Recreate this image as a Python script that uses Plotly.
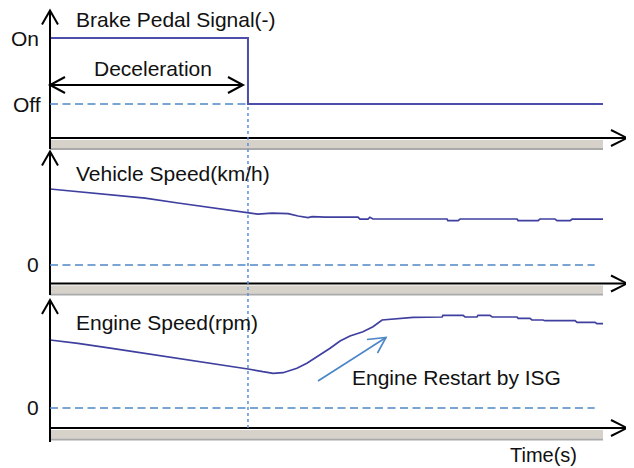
import plotly.graph_objects as go

# ---------------- data ----------------
brake_t = [0, 7.16, 20.0]
brake_state = [1, 0, 0]          # 1 = On, 0 = Off

speed_t = [0, 1.0, 2.24, 3.44, 4.63, 5.86, 7.05, 7.52, 8.03, 8.61, 8.97, 9.33, 9.48, 9.95,
           11.14, 11.21, 11.50, 11.57, 11.68, 14.36, 14.39, 14.76, 14.83, 16.89, 16.93,
           17.65, 17.72, 18.26, 18.34, 18.81, 18.88, 20.0]
speed_kmh = [38.0, 36.6, 35.0, 33.4, 31.0, 28.5, 26.2, 25.4, 25.9, 25.7, 24.5, 23.7, 24.2, 23.9,
             23.9, 22.9, 22.9, 23.9, 23.0, 23.0, 22.2, 22.2, 23.0, 23.0, 22.2,
             22.2, 23.0, 23.0, 22.2, 22.2, 22.9, 22.9]

rpm_t = [0, 1.01, 2.24, 3.44, 4.63, 5.86, 6.94, 7.16, 7.70, 8.07, 8.43, 8.93, 9.29, 9.66,
         10.13, 10.49, 10.85, 11.32, 11.68, 12.01, 12.55, 13.13, 14.18, 14.21, 14.94, 15.01,
         15.44, 15.48, 15.91, 15.99, 16.89, 16.93, 17.36, 17.43, 17.83, 17.90, 18.99, 19.06,
         19.71, 19.78, 20.0]
rpm = [1360, 1294, 1194, 1094, 994, 894, 806, 780, 726, 694, 706, 794, 894, 1026,
       1194, 1340, 1440, 1526, 1626, 1760, 1780, 1814, 1820, 1854, 1854, 1820,
       1820, 1854, 1854, 1820, 1820, 1794, 1794, 1760, 1760, 1746, 1746, 1714,
       1714, 1686, 1686]

release_t = 7.16
t_end = 20.0

# ---------------- geometry helpers ----------------
OFF = 8                      # page body margin offset
W, H = 634 - OFF, 468 - OFF
L = 50 - OFF
R = W - (628 - OFF)
PW = W - L - R


def px(x):
    return (x - OFF - L) / PW


def py(y):
    return 1 - (y - OFF) / H


FONT = "Liberation Sans, Arial, sans-serif"
LINE_C = "#3f3fa0"
DASH_C = "#4f86c6"

fig = go.Figure()
fig.add_trace(go.Scatter(x=brake_t, y=brake_state, mode="lines", line_shape="hv",
                         line=dict(color="#4d4daa", width=2), xaxis="x", yaxis="y",
                         hoverinfo="skip"))
fig.add_trace(go.Scatter(x=speed_t, y=speed_kmh, mode="lines",
                         line=dict(color=LINE_C, width=1.7), xaxis="x", yaxis="y2",
                         hoverinfo="skip"))
fig.add_trace(go.Scatter(x=rpm_t, y=rpm, mode="lines",
                         line=dict(color=LINE_C, width=1.7), xaxis="x", yaxis="y3",
                         hoverinfo="skip"))

shapes = []


def pline(x0, y0, x1, y1, color="black", width=2, dash=None):
    d = dict(type="line", xref="paper", yref="paper", x0=px(x0), y0=py(y0),
             x1=px(x1), y1=py(y1), line=dict(color=color, width=width))
    if dash:
        d["line"]["dash"] = dash
    shapes.append(d)


def chevron(pts, color="black", width=2):
    path = "M " + " L ".join(f"{px(a):.5f},{py(b):.5f}" for a, b in pts)
    shapes.append(dict(type="path", xref="paper", yref="paper", path=path,
                       line=dict(color=color, width=width)))


def prect(x0, y0, x1, y1, color):
    shapes.append(dict(type="rect", xref="paper", yref="paper", x0=px(x0), y0=py(y0),
                       x1=px(x1), y1=py(y1), fillcolor=color, line=dict(width=0),
                       layer="below"))


panels = [  # axis y, band top, band bottom, y-axis top, y-axis bottom
    (138, 140, 150, 10.5, 149),
    (283.5, 285.5, 295.5, 151.5, 295),
    (428, 430, 440.5, 300, 442),
]
for ay, bt, bb, yt, yb in panels:
    prect(50, bt, 603, bb - 2, "#d6d2ca")
    prect(50, bb - 2, 603, bb, "#a9a9a9")
    pline(50, ay, 627, ay)
    chevron([(611, ay - 8), (627, ay), (611, ay + 8)])
    pline(50, yt, 50, yb)
    chevron([(42, yt + 14), (50, yt), (58, yt + 14)])

# dashed reference lines (data coordinates)
dash = "8px,4.5px"
shapes.append(dict(type="line", xref="x", yref="y", x0=0, x1=release_t, y0=0, y1=0,
                   line=dict(color=DASH_C, width=1.5, dash=dash)))
shapes.append(dict(type="line", xref="x", yref="y2", x0=0, x1=19.7, y0=0, y1=0,
                   line=dict(color=DASH_C, width=1.5, dash=dash)))
shapes.append(dict(type="line", xref="x", yref="y3", x0=0, x1=19.7, y0=0, y1=0,
                   line=dict(color=DASH_C, width=1.5, dash=dash)))

# dotted vertical line at brake release
shapes.append(dict(type="line", xref="x", yref="paper", x0=release_t, x1=release_t,
                   y0=py(428), y1=py(105), line=dict(color="#5b8fd6", width=1.5, dash="dot")))

# Deceleration double arrow
pline(50, 85, 243, 85)
chevron([(65, 77), (50, 85), (65, 93)])
chevron([(228, 77), (243, 85), (228, 93)])

# Engine restart arrow
pline(318, 381, 386, 337.5, color="#4a86c8", width=1.6)
chevron([(367, 339.5), (386, 337.5), (377.5, 353)], color="#4a86c8", width=1.6)

fig.update_layout(shapes=shapes)

ann = []


def text(t, x, y, anchor="left", size=21):
    ann.append(dict(text=t, xref="paper", yref="paper", x=px(x), y=py(y),
                    xanchor=anchor, yanchor="middle", showarrow=False,
                    font=dict(family=FONT, size=size, color="#111111")))


text("Brake Pedal Signal(-)", 74, 20)
text("On", 41, 39, anchor="right")
text("Off", 43, 104, anchor="right")
text("Deceleration", 153, 68, anchor="center")
text("Vehicle Speed(km/h)", 74, 173)
text("0", 41, 264, anchor="right")
text("Engine Speed(rpm)", 74, 322)
text("0", 41, 407, anchor="right")
text("Engine Restart by ISG", 350, 377)
text("Time(s)", 508, 455, size=20)

x_max = t_end * (628 - 50) / (603 - 50)
fig.update_layout(
    width=W, height=H,
    margin=dict(l=L, r=R, t=0, b=0),
    paper_bgcolor="white", plot_bgcolor="white",
    showlegend=False,
    annotations=ann,
    xaxis=dict(range=[0, x_max], visible=False, anchor="y", fixedrange=True),
    yaxis=dict(domain=[py(150), py(12)], range=[-0.697, 1.394], visible=False, anchor="x"),
    yaxis2=dict(domain=[py(295), py(152)], range=[-15, 56.5], visible=False, anchor="x"),
    yaxis3=dict(domain=[py(440), py(300)], range=[-640, 2160], visible=False, anchor="x"),
)

fig.write_html("out.html")
